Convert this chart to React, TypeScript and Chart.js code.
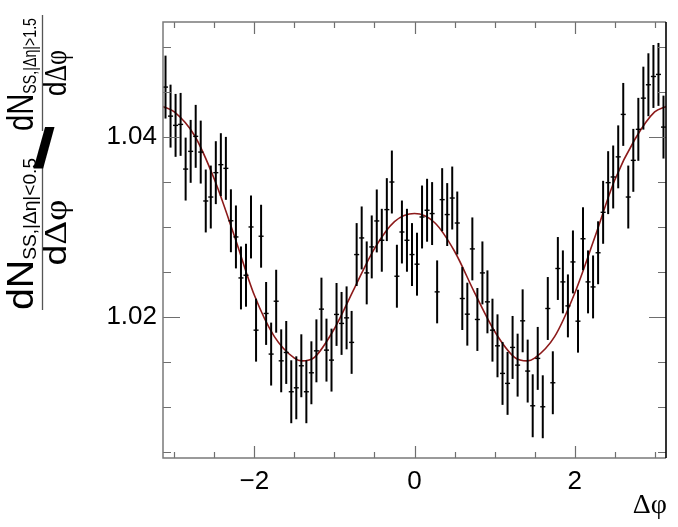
import React, { useEffect, useRef } from "react";
import { Chart, registerables } from "chart.js";

Chart.register(...registerables);

// ---- data ----
const X_MIN = -Math.PI;
const X_MAX = Math.PI;
const Y_MIN = 1.0043;
const Y_MAX = 1.0528;
const BIN_COUNT = 100;

const BIN_VALUES = [
  1.04556, 1.04233, 1.0413, 1.04141, 1.03644, 1.03841, 1.04008, 1.03833, 1.03289, 1.03333,
  1.03604, 1.03693, 1.03652, 1.03069, 1.02889, 1.02433, 1.02463, 1.03, 1.01852, 1.02897,
  1.02038, 1.01586, 1.02174, 1.01511, 1.01604, 1.01167, 1.01211, 1.01456, 1.01167, 1.01378,
  1.01622, 1.02086, 1.0163, 1.01519, 1.02027, 1.01927, 1.01989, 1.01716, 1.02693, 1.02878,
  1.02489, 1.02778, 1.03067, 1.02852, 1.03193, 1.035, 1.02452, 1.02944, 1.02852, 1.02693,
  1.02586, 1.03111, 1.03186, 1.03149, 1.02278, 1.03304, 1.03138, 1.03322, 1.03044, 1.02204,
  1.0203, 1.02756, 1.01971, 1.02489, 1.02167, 1.01852, 1.01678, 1.01371, 1.0126, 1.0166,
  1.01463, 1.01956, 1.01397, 1.01011, 1.01538, 1.01, 1.02093, 1.01267, 1.02538, 1.02389,
  1.02122, 1.02611, 1.01952, 1.02869, 1.02389, 1.02333, 1.02713, 1.03163, 1.03493, 1.03556,
  1.0378, 1.04252, 1.03333, 1.03741, 1.04086, 1.04433, 1.04582, 1.04674, 1.04697, 1.04111,
];

const BIN_ERRORS = [
  0.0035, 0.0035, 0.0035, 0.0035, 0.0035, 0.0035, 0.0035, 0.0035, 0.0035, 0.0035,
  0.0035, 0.0035, 0.0035, 0.0035, 0.0035, 0.0035, 0.0035, 0.0035, 0.0035, 0.0035,
  0.0035, 0.0035, 0.0035, 0.0035, 0.0035, 0.0035, 0.0035, 0.0035, 0.0035, 0.0035,
  0.0035, 0.0035, 0.0035, 0.0035, 0.0035, 0.0035, 0.0035, 0.0035, 0.0035, 0.0035,
  0.0035, 0.0035, 0.0035, 0.0035, 0.0035, 0.0035, 0.0035, 0.0035, 0.0035, 0.0035,
  0.0035, 0.0035, 0.0035, 0.0035, 0.0035, 0.0035, 0.0035, 0.0035, 0.0035, 0.0035,
  0.0035, 0.0035, 0.0035, 0.0035, 0.0035, 0.0035, 0.0035, 0.0035, 0.0035, 0.0035,
  0.0035, 0.0035, 0.0035, 0.0035, 0.0035, 0.0035, 0.0035, 0.0035, 0.0035, 0.0035,
  0.0035, 0.0035, 0.0035, 0.0035, 0.0035, 0.0035, 0.0035, 0.0035, 0.0035, 0.0035,
  0.0035, 0.0035, 0.0035, 0.0035, 0.0035, 0.0035, 0.0035, 0.0035, 0.0035, 0.0035,
];

const FIT_X = [
  -3.1416, -3.0, -2.75, -2.5, -2.25, -2.0, -1.75, -1.5, -1.41, -1.25, -1.0, -0.75, -0.5, -0.25,
  0, 0.25, 0.5, 0.75, 1.0, 1.25, 1.41, 1.5, 1.75, 2.0, 2.25, 2.5, 2.75, 3.0, 3.1416,
];
const FIT_Y = [
  1.0434, 1.0428, 1.0402, 1.0353, 1.029, 1.0224, 1.0178, 1.0154, 1.0151, 1.0155, 1.0187, 1.0232, 1.0276, 1.0306,
  1.0315, 1.0305, 1.0273, 1.0227, 1.0184, 1.0155, 1.0151, 1.0154, 1.0178, 1.0226, 1.0288, 1.0352, 1.0397, 1.0428, 1.0434,
];

const X_LABEL_TICKS = [-2, 0, 2];
const X_MINOR_TICKS = [-3, -2.5, -2, -1.5, -1, -0.5, 0, 0.5, 1, 1.5, 2, 2.5, 3];
const Y_LABEL_TICKS = [1.02, 1.04];
const Y_MINOR_TICKS = [1.005, 1.01, 1.015, 1.02, 1.025, 1.03, 1.035, 1.04, 1.045, 1.05];

const X_TITLE = "Δφ";
const Y_TITLE_SUBSCRIPTS = ["SS,|Δη|<0.5", "SS,|Δη|>1.5"];

const SANS = "'Liberation Sans', Arial, Helvetica, sans-serif";
const SERIF = "'Liberation Serif', 'Times New Roman', serif";

const binCenter = (i: number) => X_MIN + ((i + 0.5) * (X_MAX - X_MIN)) / BIN_COUNT;

// ---- plugins ----
const errorBarPlugin = {
  id: "errorBars",
  afterDatasetsDraw(chart: any) {
    const { ctx, chartArea, scales } = chart;
    const xs = scales.x;
    const ys = scales.y;
    ctx.save();
    ctx.beginPath();
    ctx.rect(chartArea.left, chartArea.top, chartArea.right - chartArea.left, chartArea.bottom - chartArea.top);
    ctx.clip();
    ctx.strokeStyle = "#000";
    const half = (xs.getPixelForValue(binCenter(1)) - xs.getPixelForValue(binCenter(0))) / 2;
    BIN_VALUES.forEach((v, i) => {
      const px = xs.getPixelForValue(binCenter(i));
      const py = ys.getPixelForValue(v);
      const pt = ys.getPixelForValue(v + BIN_ERRORS[i]);
      const pb = ys.getPixelForValue(v - BIN_ERRORS[i]);
      ctx.lineWidth = 2;
      ctx.beginPath();
      ctx.moveTo(px, pt);
      ctx.lineTo(px, pb);
      ctx.stroke();
      ctx.lineWidth = 1.4;
      ctx.beginPath();
      ctx.moveTo(px - half, py);
      ctx.lineTo(px + half, py);
      ctx.stroke();
    });
    ctx.restore();
  },
};

function measureRuns(ctx: CanvasRenderingContext2D, runs: any[]) {
  let w = 0;
  for (const r of runs) {
    ctx.font = r.f;
    w += ctx.measureText(r.t).width;
  }
  return w;
}

function drawRuns(ctx: CanvasRenderingContext2D, runs: any[], lx: number, base: number) {
  let x = lx;
  for (const r of runs) {
    ctx.font = r.f;
    ctx.fillText(r.t, x, base + r.dy);
    x += ctx.measureText(r.t).width;
  }
  return x;
}

// fraction layout: start (page y of bottom end), target numerator length, target denominator length
const FRACTION_LAYOUT = [
  { start: 310, numLen: 152, denLen: 66 },
  { start: 131, numLen: 113, denLen: 46 },
];

const framePlugin = {
  id: "frameAndTitles",
  afterDraw(chart: any) {
    const { ctx, chartArea, scales } = chart;
    const { left, right, top, bottom } = chartArea;
    const xs = scales.x;
    const ys = scales.y;
    ctx.save();
    // ticks
    ctx.strokeStyle = "#6e6e6e";
    ctx.lineWidth = 1.2;
    ctx.beginPath();
    for (const v of X_MINOR_TICKS) {
      const px = Math.round(xs.getPixelForValue(v)) + 0.5;
      const len = X_LABEL_TICKS.includes(v) ? 12 : 6;
      ctx.moveTo(px, bottom);
      ctx.lineTo(px, bottom - len);
      ctx.moveTo(px, top);
      ctx.lineTo(px, top + len);
    }
    for (const v of Y_MINOR_TICKS) {
      const py = Math.round(ys.getPixelForValue(v)) + 0.5;
      const len = Y_LABEL_TICKS.includes(v) ? 17 : 8;
      ctx.moveTo(left, py);
      ctx.lineTo(left + len, py);
      ctx.moveTo(right, py);
      ctx.lineTo(right - len, py);
    }
    ctx.stroke();
    // frame
    ctx.strokeStyle = "#7a7a7a";
    ctx.lineWidth = 1.5;
    ctx.beginPath();
    ctx.moveTo(right, top);
    ctx.lineTo(left, top);
    ctx.lineTo(left, bottom);
    ctx.lineTo(right, bottom);
    ctx.stroke();
    ctx.strokeStyle = "#000";
    ctx.lineWidth = 1.6;
    ctx.beginPath();
    ctx.moveTo(right, top);
    ctx.lineTo(right, bottom);
    ctx.stroke();

    // x title
    ctx.fillStyle = "#000";
    ctx.font = `28px ${SERIF}`;
    ctx.textAlign = "right";
    ctx.textBaseline = "alphabetic";
    ctx.fillText(X_TITLE, 667, 513);

    // y title (rotated)
    ctx.save();
    ctx.rotate(-Math.PI / 2);
    ctx.textAlign = "left";
    ctx.textBaseline = "alphabetic";
    FRACTION_LAYOUT.forEach((fr, k) => {
      const numer = [
        { t: "dN", f: `37px ${SANS}`, dy: 0 },
        { t: Y_TITLE_SUBSCRIPTS[k], f: `18px ${SANS}`, dy: 3 },
      ];
      const denom = [
        { t: "d", f: `31px ${SANS}`, dy: 0 },
        { t: "Δφ", f: `31px ${SERIF}`, dy: 0 },
      ];
      const wN = measureRuns(ctx, numer);
      const wD = measureRuns(ctx, denom);
      const lx0 = -fr.start;
      // numerator
      ctx.save();
      ctx.translate(lx0, 0);
      ctx.scale(fr.numLen / wN, 1);
      drawRuns(ctx, numer, 0, 33);
      ctx.restore();
      // fraction bar
      const lineLen = fr.numLen + 3;
      ctx.strokeStyle = "#555";
      ctx.lineWidth = 1.3;
      ctx.beginPath();
      ctx.moveTo(lx0, 42.5);
      ctx.lineTo(lx0 + lineLen, 42.5);
      ctx.stroke();
      // denominator
      ctx.save();
      ctx.translate(lx0 + (lineLen - fr.denLen) / 2, 0);
      ctx.scale(fr.denLen / wD, 1);
      drawRuns(ctx, denom, 0, 66);
      ctx.restore();
    });
    ctx.restore();

    // slash between the two fractions
    ctx.save();
    ctx.translate(44, 152);
    ctx.scale(1.45, 1);
    ctx.font = `bold 56px ${SANS}`;
    ctx.textAlign = "center";
    ctx.textBaseline = "middle";
    ctx.fillText("/", 0, 0);
    ctx.restore();

    ctx.restore();
  },
};

export default function App() {
  const canvasRef = useRef<HTMLCanvasElement | null>(null);

  useEffect(() => {
    document.body.style.margin = "0";
    const canvas = canvasRef.current;
    if (!canvas) return;
    const points = BIN_VALUES.map((v, i) => ({ x: binCenter(i), y: v }));
    const fit = FIT_X.map((x, i) => ({ x, y: FIT_Y[i] }));
    const chart = new Chart(canvas, {
      type: "scatter",
      data: {
        datasets: [
          {
            type: "scatter",
            label: "data",
            data: points,
            pointRadius: 0,
            pointHoverRadius: 0,
            showLine: false,
          },
          {
            type: "line",
            label: "fit",
            data: fit,
            borderColor: "#8c1a1a",
            borderWidth: 1.6,
            pointRadius: 0,
            fill: false,
            cubicInterpolationMode: "monotone",
          } as any,
        ],
      },
      options: {
        responsive: false,
        animation: false,
        events: [],
        layout: { padding: { top: 22, right: 12, left: 0, bottom: 0 } },
        plugins: {
          legend: { display: false },
          tooltip: { enabled: false },
          title: { display: false },
        },
        scales: {
          x: {
            type: "linear",
            min: X_MIN,
            max: X_MAX,
            grid: { display: false, drawTicks: false },
            border: { display: false },
            afterBuildTicks: (s: any) => {
              s.ticks = X_LABEL_TICKS.map((v) => ({ value: v }));
            },
            afterFit: (s: any) => {
              s.height = 69;
            },
            ticks: {
              autoSkip: false,
              maxRotation: 0,
              padding: 8,
              color: "#000",
              font: { family: SANS, size: 26 },
              callback: (v: any) => (Number(v) < 0 ? "\u2212" + Math.abs(Number(v)) : String(v)),
            },
          },
          y: {
            type: "linear",
            min: Y_MIN,
            max: Y_MAX,
            grid: { display: false, drawTicks: false },
            border: { display: false },
            afterBuildTicks: (s: any) => {
              s.ticks = Y_LABEL_TICKS.map((v) => ({ value: v }));
            },
            afterFit: (s: any) => {
              s.width = 163;
            },
            ticks: {
              autoSkip: false,
              padding: 6,
              color: "#000",
              font: { family: SANS, size: 26 },
              callback: (v: any) => Number(v).toFixed(2),
            },
          },
        },
      },
      plugins: [errorBarPlugin, framePlugin],
    });
    return () => chart.destroy();
  }, []);

  return (
    <canvas
      ref={canvasRef}
      width={678}
      height={527}
      style={{ display: "block", width: 678, height: 527 }}
    />
  );
}
